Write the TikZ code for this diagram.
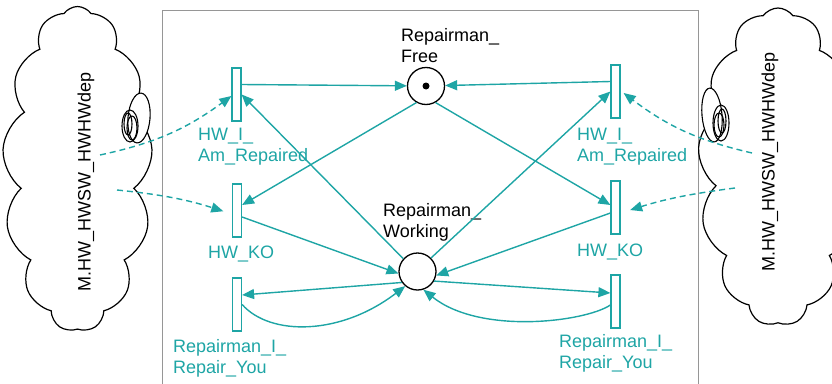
\documentclass[tikz,border=0pt]{standalone}
\usepackage{fontspec}
\setmainfont{Liberation Sans}
\usetikzlibrary{arrows.meta,shapes.symbols,calc}
\definecolor{pteal}{RGB}{30,165,165}
\definecolor{framegray}{RGB}{150,150,150}
\begin{document}
\begin{tikzpicture}[x=1pt,y=-1pt,
  font=\fontsize{18}{21}\selectfont,
  trans/.style={draw=pteal, fill=white, line width=1.2pt, minimum width=9pt, minimum height=53pt, inner sep=0pt},
  place/.style={circle, draw=black, line width=1.3pt, minimum size=37pt, inner sep=0pt},
  token/.style={circle, fill=black, minimum size=7pt, inner sep=0pt},
  arcc/.style={draw=pteal, line width=1.4pt, -{Triangle[length=12pt,width=10pt]}},
  dep/.style={arcc, dash pattern=on 6pt off 4pt},
  tlabel/.style={text=pteal, align=left, inner sep=0pt, anchor=base west},
  plabel/.style={text=black, align=left, inner sep=0pt, anchor=base west},
  cloudshape/.style={cloud, draw=black, line width=1.2pt, cloud puffs=13, cloud puff arc=110, cloud ignores aspect, inner sep=0pt},
  smallell/.style={draw=black, line width=1.1pt},
  cloudtext/.style={text=black, rotate=90, inner sep=0pt}
]
\useasboundingbox (0,0) rectangle (832,383);
% frame
\draw[framegray, line width=0.8pt] (162,384) -- (162,10) -- (698,10) -- (698,384);

% clouds
\node[cloudshape, minimum width=150pt, minimum height=325pt] (cloudL) at (77.5,169) {};
\node[cloudshape, minimum width=160pt, minimum height=318pt] (cloudR) at (778,167) {};
\node[cloudtext] (cloudLtext) at (86,182) {M.HW\_HWSW\_HWHWdep};
\node[cloudtext] (cloudRtext) at (770,162) {M.HW\_HWSW\_HWHWdep};
% small ellipses on clouds
\draw[smallell, fill=white, rotate around={-5:(139,118)}] (139,118) ellipse [x radius=11, y radius=25];
\draw[smallell] (130,126) ellipse [x radius=8, y radius=16];
\draw[smallell] (128,124) ellipse [x radius=4, y radius=11];
\draw[smallell] (132,128) ellipse [x radius=5, y radius=12];
\draw[smallell, fill=white, rotate around={5:(712,115)}] (712,115) ellipse [x radius=10, y radius=27];
\draw[smallell] (721,123) ellipse [x radius=8, y radius=18];
\draw[smallell] (722,121) ellipse [x radius=4, y radius=12];
\draw[smallell] (719,125) ellipse [x radius=5, y radius=12];

% places
\node[place] (pf) at (426,86) {};
\node[token] (tok) at (pf) {};
\node[place] (pw) at (417.5,271.5) {};
\node[plabel] (pflabel) at (401,62) {Repairman\_\\Free};
\node[plabel] (pwlabel) at (383,237) {Repairman\_\\Working};

% transitions
\node[trans] (tl1) at (236.5,94.5) {};
\node[trans] (tl2) at (237,210.5) {};
\node[trans] (tl3) at (237,304.5) {};
\node[trans] (tr1) at (615.5,91.5) {};
\node[trans] (tr2) at (615.5,207.5) {};
\node[trans] (tr3) at (615.5,301.5) {};

\node[tlabel] (tl1label) at (198,161) {HW\_I\_\\Am\_Repaired};
\node[tlabel] (tl2label) at (208,258) {HW\_KO};
\node[tlabel] (tl3label) at (173,373) {Repairman\_I\_\\Repair\_You};
\node[tlabel] (tr1label) at (577,161) {HW\_I\_\\Am\_Repaired};
\node[tlabel] (tr2label) at (577,256) {HW\_KO};
\node[tlabel] (tr3label) at (559,368) {Repairman\_I\_\\Repair\_You};

% arcs
\draw[arcc] ([yshift=10pt]tl1.east) -- (pf);
\draw[arcc] ([yshift=10pt]tr1.west) -- (pf);
\draw[arcc] (pf.240) -- ([yshift=5.5pt]tl2.east);
\draw[arcc] (pf.300) -- ([yshift=2.5pt]tr2.west);
\draw[arcc] (pw.138) -- (tl1.east);
\draw[arcc] (pw.45) -- (tr1.west);
\draw[arcc] ([yshift=-6.5pt]tl2.east) -- (pw.186);
\draw[arcc] ([yshift=-5.5pt]tr2.west) -- (pw.-12);
\draw[arcc] (pw.215) -- ([yshift=9.5pt]tl3.east);
\draw[arcc] (tl3.east) .. controls (270,336) and (340,336) .. (pw.230);
\draw[arcc] (pw.-30) -- ([yshift=8.5pt]tr3.west);
\draw[arcc] ([yshift=-3.5pt]tr3.west) .. controls (585,322) and (480,335) .. (pw.-72);

% dependency arcs
\coordinate (dl1) at (100,155);
\coordinate (dl2) at (117,190);
\coordinate (dr1) at (752,153);
\coordinate (dr2) at (735,188);
\draw[dep] (dl1) to[bend right=12] ([yshift=-1.5pt]tl1.west);
\draw[dep, shorten >=9pt] (dl2) to[bend left=6] ([yshift=-3.5pt]tl2.west);
\draw[dep] (dr1) to[bend left=12] ([yshift=-1.5pt,xshift=3pt]tr1.east);
\draw[dep, shorten >=10pt] (dr2) to[bend right=5] ([yshift=-5.5pt]tr2.east);
\end{tikzpicture}
\end{document}
